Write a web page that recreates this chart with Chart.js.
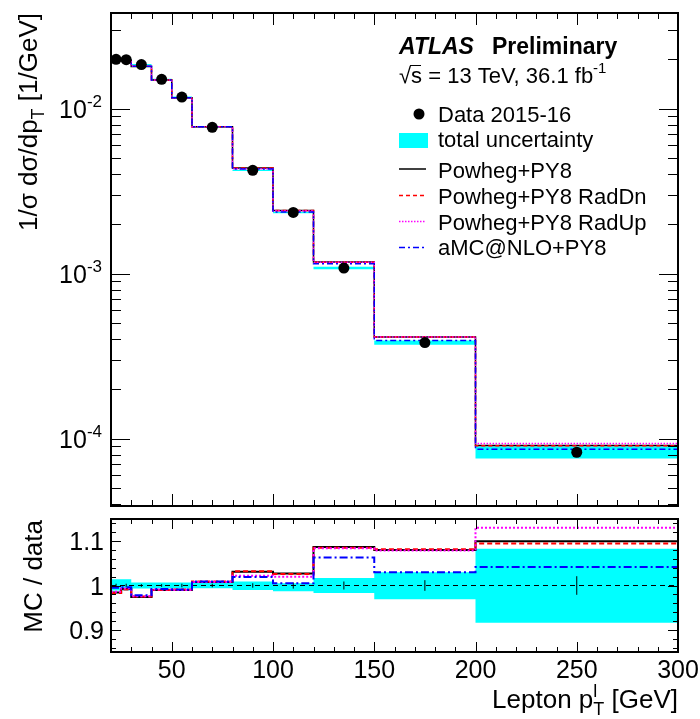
<!DOCTYPE html>
<html lang="en">
<head>
    <meta charset="UTF-8">
    <title>Lepton pT - ATLAS Preliminary</title>
    <script src="https://cdn.jsdelivr.net/npm/chart.js"></script>
    <style>
        body { margin: 0; background: #fff; }
        .wrap { position: relative; width: 700px; height: 719px; }
        canvas { position: absolute; left: 0; top: 0; }
    </style>
</head>
<body>
<div class="wrap">
    <canvas id="topChart" width="700" height="719"></canvas>
    <canvas id="ratioChart" width="700" height="719"></canvas>
</div>
<script>
// binning and data
const binEdges = [20, 25, 30, 40, 50, 60, 80, 100, 120, 150, 200, 300];
const binCenters = [22.5, 27.5, 35, 45, 55, 70, 90, 110, 135, 175, 250];
const dataValues = [0.0199, 0.0198, 0.0185, 0.01505, 0.01176, 0.0077, 0.00423, 0.00235, 0.00108, 0.000382, 0.0000826];
const statErr = [0.004, 0.004, 0.003, 0.003, 0.004, 0.004, 0.005, 0.007, 0.009, 0.012, 0.021];
// total uncertainty (relative)
const uncUp = [0.014, 0.014, 0.007, 0.007, 0.007, 0.008, 0.009, 0.005, 0.017, 0.030, 0.083];
const uncDown = [0.011, 0.011, 0.007, 0.007, 0.007, 0.006, 0.010, 0.013, 0.017, 0.031, 0.084];

// MC predictions, top panel
const powheg = [0.01958, 0.01964, 0.01802, 0.01490, 0.01164, 0.00776, 0.00436, 0.00241, 0.001174, 0.000413, 0.0000909];
const radDn = [0.01956, 0.01962, 0.01804, 0.01490, 0.01165, 0.00777, 0.00437, 0.00241, 0.001172, 0.000413, 0.0000904];
const radUp = [0.01962, 0.01966, 0.01806, 0.01491, 0.01164, 0.00776, 0.00432, 0.00240, 0.001171, 0.000412, 0.0000933];
const amc = [0.01980, 0.01966, 0.01809, 0.01491, 0.01164, 0.00777, 0.00431, 0.00236, 0.001148, 0.000393, 0.0000861];

// MC / data
const powhegRatio = [0.984, 0.992, 0.974, 0.990, 0.990, 1.008, 1.031, 1.027, 1.087, 1.080, 1.100];
const radDnRatio = [0.983, 0.991, 0.975, 0.990, 0.991, 1.009, 1.032, 1.026, 1.085, 1.082, 1.095];
const radUpRatio = [0.986, 0.993, 0.976, 0.991, 0.990, 1.008, 1.022, 1.020, 1.084, 1.079, 1.130];
const amcRatio = [0.995, 0.996, 0.978, 0.992, 0.991, 1.009, 1.019, 1.005, 1.063, 1.030, 1.042];

// axes
const xTicks = [50, 100, 150, 200, 250, 300];
const topTickExp = [-4, -3, -2];
const ratioTicks = [0.9, 1, 1.1];
const ratioTickLabels = ['0.9', '1', '1.1'];

const FONT = '"Liberation Sans", Arial, Helvetica, sans-serif';
const CYAN = '#00ffff';

function steps(vals) {
    // one point per edge, holding the value of the bin that starts there
    return binEdges.map((e, i) => ({ x: e, y: vals[Math.min(i, vals.length - 1)] }));
}

function richText(ctx, parts, x, y, align) {
    let total = 0, prevStart = 0;
    const pos = [];
    parts.forEach(p => {
        ctx.font = (p.style ? p.style + ' ' : '') + p.size + 'px ' + FONT;
        const w = ctx.measureText(p.t).width;
        const start = p.stack ? prevStart : total;
        pos.push(start);
        prevStart = start;
        total = Math.max(total, start + w);
    });
    const x0 = align === 'right' ? x - total : align === 'center' ? x - total / 2 : x;
    ctx.textAlign = 'left';
    ctx.textBaseline = 'alphabetic';
    parts.forEach((p, i) => {
        ctx.font = (p.style ? p.style + ' ' : '') + p.size + 'px ' + FONT;
        ctx.fillText(p.t, x0 + pos[i], y + (p.dy || 0));
    });
}

function seg(ctx, x1, y1, x2, y2) {
    ctx.beginPath();
    ctx.moveTo(x1, y1);
    ctx.lineTo(x2, y2);
    ctx.stroke();
}

function drawXTicks(chart, major, minor) {
    const { ctx, chartArea: a, scales: { x } } = chart;
    for (let v = 30; v < 300; v += 10) {
        const px = Math.round(x.getPixelForValue(v)) + 0.5;
        const len = v % 50 === 0 ? major : minor;
        seg(ctx, px, a.bottom, px, a.bottom - len);
        seg(ctx, px, a.top, px, a.top + len);
    }
}

// frame, inward ticks and all axis text for the top pad
const topAxes = {
    id: 'topAxes',
    afterDraw(chart) {
        const { ctx, chartArea: a, scales: { x, y } } = chart;
        ctx.save();
        ctx.strokeStyle = '#000';
        ctx.fillStyle = '#000';
        ctx.lineWidth = 1;
        drawXTicks(chart, 12, 6);
        for (let e = -5; e <= -1; e++) {
            for (let m = 1; m <= 9; m++) {
                const v = m * Math.pow(10, e);
                if (v < y.min || v > y.max) continue;
                const py = Math.round(y.getPixelForValue(v)) + 0.5;
                const len = m === 1 ? 19 : 10;
                seg(ctx, a.left, py, a.left + len, py);
                seg(ctx, a.right, py, a.right - len, py);
            }
        }
        ctx.lineWidth = 2;
        ctx.strokeRect(a.left, a.top, a.right - a.left, a.bottom - a.top);

        topTickExp.forEach(e => {
            const py = y.getPixelForValue(Math.pow(10, e));
            richText(ctx, [{ t: '10', size: 25 }, { t: String(e), size: 17, dy: -11 }], 102, py + 9, 'right');
        });

        // y title
        ctx.save();
        ctx.translate(37, 13);
        ctx.rotate(-Math.PI / 2);
        richText(ctx, [{ t: '1/σ dσ/dp', size: 26 }, { t: 'T', size: 18, dy: 7 }, { t: ' [1/GeV]', size: 26 }], 0, 0, 'right');
        ctx.restore();

        // ATLAS label
        richText(ctx, [{ t: 'ATLAS', size: 23, style: 'italic bold' }], 399, 54, 'left');
        richText(ctx, [{ t: 'Preliminary', size: 23, style: 'bold' }], 492, 54, 'left');
        richText(ctx, [{ t: '√s = 13 TeV, 36.1 fb', size: 22 }, { t: '-1', size: 15, dy: -10 }], 399, 83, 'left');
        ctx.lineWidth = 1;
        seg(ctx, 410, 65.5, 421, 65.5);

        // legend
        const tx = 438;
        ctx.beginPath();
        ctx.arc(419, 114, 5.5, 0, Math.PI * 2);
        ctx.fill();
        richText(ctx, [{ t: 'Data 2015-16', size: 22 }], tx, 121.5, 'left');
        ctx.fillStyle = CYAN;
        ctx.fillRect(399, 133, 29, 15);
        ctx.fillStyle = '#000';
        richText(ctx, [{ t: 'total uncertainty', size: 22 }], tx, 147, 'left');
        const samples = [
            ['Powheg+PY8', '#000', [], 169, 178],
            ['Powheg+PY8 RadDn', '#ff0000', [4, 3], 195.5, 204],
            ['Powheg+PY8 RadUp', '#ff00ff', [1.5, 1.5], 221.5, 230],
            ['aMC@NLO+PY8', '#0000ff', [6, 3, 2, 3], 247.5, 255]
        ];
        samples.forEach(s => {
            ctx.strokeStyle = s[1];
            ctx.lineWidth = 1.5;
            ctx.setLineDash(s[2]);
            seg(ctx, 399, s[3], 426, s[3]);
            ctx.setLineDash([]);
            richText(ctx, [{ t: s[0], size: 22 }], tx, s[4], 'left');
        });
        ctx.restore();
    }
};

const ratioAxes = {
    id: 'ratioAxes',
    afterDraw(chart) {
        const { ctx, chartArea: a, scales: { x, y } } = chart;
        ctx.save();
        ctx.strokeStyle = '#000';
        ctx.fillStyle = '#000';
        ctx.lineWidth = 1;
        drawXTicks(chart, 10, 5);
        for (let k = 86; k <= 114; k += 2) {
            const py = Math.round(y.getPixelForValue(k / 100)) + 0.5;
            const len = k % 10 === 0 ? 10 : 5;
            seg(ctx, a.left, py, a.left + len, py);
            seg(ctx, a.right, py, a.right - len, py);
        }
        ctx.lineWidth = 2;
        ctx.strokeRect(a.left, a.top, a.right - a.left, a.bottom - a.top);

        ratioTicks.forEach((v, i) => {
            richText(ctx, [{ t: ratioTickLabels[i], size: 25 }], 104, y.getPixelForValue(v) + 9, 'right');
        });
        xTicks.forEach(v => {
            richText(ctx, [{ t: String(v), size: 25 }], x.getPixelForValue(v), 678, 'center');
        });

        ctx.save();
        ctx.translate(42, 520);
        ctx.rotate(-Math.PI / 2);
        richText(ctx, [{ t: 'MC / data', size: 26 }], 0, 0, 'right');
        ctx.restore();

        richText(ctx, [
            { t: 'Lepton p', size: 26 },
            { t: 'l', size: 18, dy: -11 },
            { t: 'T', size: 18, dy: 7, stack: true },
            { t: ' [GeV]', size: 26 }
        ], 678, 708, 'right');
        ctx.restore();
    }
};

function histLine(vals, color, dash, width, order) {
    return {
        data: steps(vals), stepped: 'before', borderColor: color, borderDash: dash,
        borderWidth: width, pointRadius: 0, fill: false, order: order
    };
}

function bandSets(lo, hi) {
    return [
        { data: steps(lo), stepped: 'before', borderColor: 'rgba(0,0,0,0)', borderWidth: 1, pointRadius: 0, fill: false, order: 11 },
        { data: steps(hi), stepped: 'before', borderColor: 'rgba(0,0,0,0)', borderWidth: 1, pointRadius: 0, fill: '-1', backgroundColor: CYAN, order: 10 }
    ];
}

const commonOptions = (padding, yScale) => ({
    responsive: false,
    animation: false,
    events: [],
    layout: { padding: padding },
    plugins: { legend: { display: false }, tooltip: { enabled: false } },
    scales: {
        x: { type: 'linear', min: 20, max: 300, display: false },
        y: yScale
    }
});

new Chart(document.getElementById('topChart'), {
    type: 'line',
    data: {
        datasets: [
            ...bandSets(dataValues.map((v, i) => v * (1 - uncDown[i])), dataValues.map((v, i) => v * (1 + uncUp[i]))),
            histLine(powheg, '#000', [], 1.5, 4),
            histLine(radDn, '#ff0000', [4, 3], 1.5, 3),
            histLine(radUp, '#ff00ff', [1.5, 1.5], 1.5, 2),
            histLine(amc, '#0000ff', [6, 3, 2, 3], 1.5, 1),
            {
                data: binCenters.map((c, i) => ({ x: c, y: dataValues[i] })),
                showLine: false, pointRadius: 5.5, pointBackgroundColor: '#000',
                pointBorderWidth: 0, borderColor: '#000', clip: false, order: 0
            }
        ]
    },
    options: commonOptions({ left: 111, right: 22, top: 13, bottom: 213 },
        { type: 'logarithmic', min: 3.9e-5, max: 0.038, display: false }),
    plugins: [topAxes]
});

new Chart(document.getElementById('ratioChart'), {
    type: 'line',
    data: {
        datasets: [
            ...bandSets(uncDown.map(u => 1 - u), uncUp.map(u => 1 + u)),
            {
                data: [{ x: 20, y: 1 }, { x: 300, y: 1 }], borderColor: '#000', borderWidth: 1,
                borderDash: [5, 4], pointRadius: 0, fill: false, order: 6
            },
            {
                data: binCenters.flatMap((c, i) => [{ x: c, y: 1 - statErr[i] }, { x: c, y: 1 + statErr[i] }, { x: c, y: null }]),
                borderColor: '#000', borderWidth: 1, pointRadius: 0, spanGaps: false, fill: false, order: 5
            },
            histLine(powhegRatio, '#000', [], 2, 4),
            histLine(radDnRatio, '#ff0000', [5, 3], 2, 3),
            histLine(radUpRatio, '#ff00ff', [2, 2], 2, 2),
            histLine(amcRatio, '#0000ff', [8, 3, 2, 3], 2, 1)
        ]
    },
    options: commonOptions({ left: 111, right: 22, top: 519, bottom: 67 },
        { type: 'linear', min: 0.85, max: 1.15, display: false }),
    plugins: [ratioAxes]
});
</script>
</body>
</html>
